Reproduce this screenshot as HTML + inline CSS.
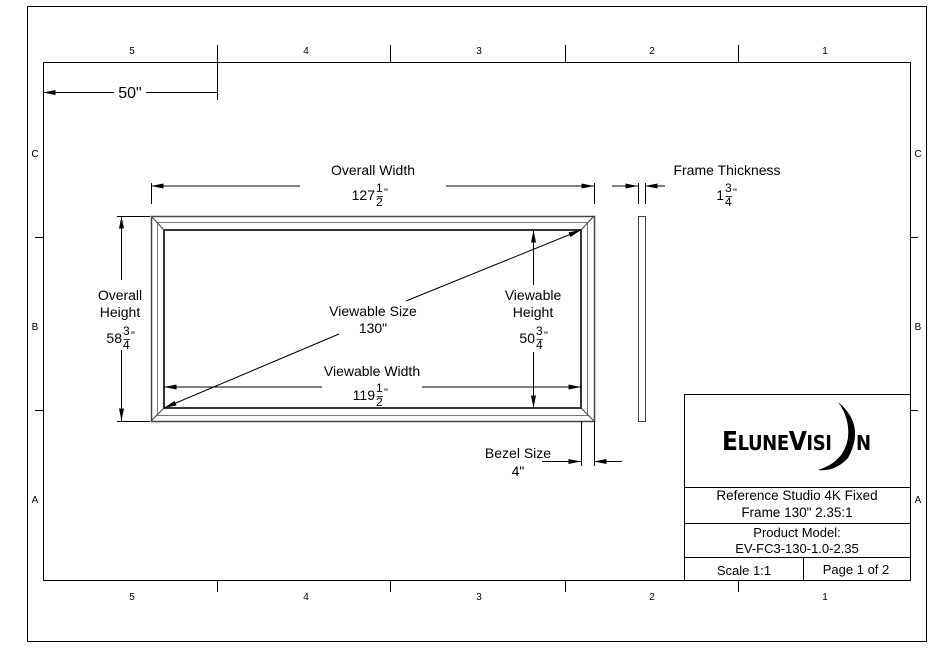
<!DOCTYPE html>
<html><head><style>body{margin:0;background:#fff}svg{display:block}text{font-family:"Liberation Sans",sans-serif;fill:#000}</style></head><body>
<svg width="952" height="654" viewBox="0 0 952 654" xmlns="http://www.w3.org/2000/svg">
<defs><marker id="a" viewBox="0 0 10 4" refX="10" refY="2" markerWidth="14" markerHeight="5" markerUnits="userSpaceOnUse" orient="auto-start-reverse"><path d="M0,0L10,2L0,4z" fill="#000"/></marker></defs>
<g fill="none" stroke="#000" stroke-width="1">
<rect x="27.5" y="6.5" width="899" height="635"/>
<rect x="43.5" y="62.5" width="867" height="518"/>
<path d="M217.5,45V62M390.5,45V62M565.5,45V62M738.5,45V62M217.5,581V592M390.5,581V592M565.5,581V592M738.5,581V592M35,237.5H43M35,410.5H43M910,237.5H918M910,410.5H918"/>
<rect x="684.5" y="394.5" width="226" height="186"/>
<path d="M684,487.5H910M684,523.5H910M684,557.5H910M803.5,557V580"/>
<rect x="151.5" y="216.5" width="443" height="205" stroke-width="1.5" stroke="#444"/>
<rect x="157.5" y="222.5" width="430" height="193" stroke="#777"/>
<rect x="164" y="230" width="417" height="178" stroke-width="2" stroke="#333"/>
<path d="M151,216L164,230M594,216L581,230M151,421L164,408M594,421L581,408" stroke="#444"/>
<rect x="638.5" y="216.5" width="7" height="205" stroke="#444"/>
<path d="M151.5,183V204M594.5,183V204"/>
<path d="M300,186H151" marker-end="url(#a)"/><path d="M446,186H594" marker-end="url(#a)"/>
<path d="M638.5,183V204M645.5,183V204"/>
<path d="M612,186H638" marker-end="url(#a)"/><path d="M665,186H645" marker-end="url(#a)"/>
<path d="M117,216.5H150M117,421.5H150"/>
<path d="M121.5,280V216" marker-end="url(#a)"/><path d="M121.5,350V421" marker-end="url(#a)"/>
<path d="M533.5,285V230" marker-end="url(#a)"/><path d="M533.5,352V408" marker-end="url(#a)"/>
<path d="M322,387H164" marker-end="url(#a)"/><path d="M422,387H581" marker-end="url(#a)"/>
<path d="M339,334L164,408" marker-end="url(#a)"/><path d="M406,301L581,230" marker-end="url(#a)"/>
<path d="M581.5,421V466M594.5,421V466"/>
<path d="M542,461.5H581" marker-end="url(#a)"/><path d="M622,461.5H594" marker-end="url(#a)"/>
<path d="M217.5,62V100"/>
<path d="M114,92.5H43" marker-end="url(#a)"/><path d="M146,92.5H217"/>
</g>
<g font-size="10" text-anchor="middle">
<text x="132" y="54">5</text><text x="306" y="54">4</text><text x="479" y="54">3</text><text x="652" y="54">2</text><text x="825" y="54">1</text>
<text x="132" y="600">5</text><text x="306" y="600">4</text><text x="479" y="600">3</text><text x="652" y="600">2</text><text x="825" y="600">1</text>
<text x="35" y="157">C</text><text x="35" y="330">B</text><text x="35" y="503">A</text>
<text x="918" y="157">C</text><text x="918" y="330">B</text><text x="918" y="503">A</text>
</g>
<g font-size="14" text-anchor="middle">
<text x="130" y="98" font-size="16">50"</text>
<text x="373" y="175">Overall Width</text>
<text x="727" y="175">Frame Thickness</text>
<text x="120" y="300">Overall</text><text x="120" y="317">Height</text>
<text x="373" y="316">Viewable Size</text><text x="373" y="333">130"</text>
<text x="533" y="300">Viewable</text><text x="533" y="317">Height</text>
<text x="372" y="376">Viewable Width</text>
<text x="518" y="458">Bezel Size</text><text x="518" y="476">4"</text>
<text x="797" y="500" font-size="13.5">Reference Studio 4K Fixed</text>
<text x="797" y="517" font-size="13.5">Frame 130"  2.35:1</text>
<text x="797" y="537" font-size="13">Product Model:</text>
<text x="797" y="553" font-size="13">EV-FC3-130-1.0-2.35</text>
<text x="744" y="575" font-size="13">Scale 1:1</text>
<text x="856" y="574" font-size="13">Page 1 of 2</text>
</g>
<g font-size="14">
<text x="375" y="200" text-anchor="end">127</text><text x="376" y="192" font-size="12">1</text><text x="376" y="206" font-size="12">2</text><text x="384" y="196" font-size="11">"</text>
<text x="724" y="200" text-anchor="end">1</text><text x="725" y="192" font-size="12">3</text><text x="725" y="206" font-size="12">4</text><text x="733" y="196" font-size="11">"</text>
<text x="122" y="343" text-anchor="end">58</text><text x="123" y="335" font-size="12">3</text><text x="123" y="349" font-size="12">4</text><text x="131" y="339" font-size="11">"</text>
<text x="535" y="343" text-anchor="end">50</text><text x="536" y="335" font-size="12">3</text><text x="536" y="349" font-size="12">4</text><text x="544" y="339" font-size="11">"</text>
<text x="375" y="400" text-anchor="end">119</text><text x="376" y="392" font-size="12">1</text><text x="376" y="406" font-size="12">2</text><text x="384" y="396" font-size="11">"</text>
</g>
<path d="M376.5,196.5H383M725.5,196.5H732M123.5,339.5H130M536.5,339.5H543M376.5,396.5H383" stroke="#000" stroke-width="0.8"/>
<text x="722" y="450" font-size="26" font-weight="bold" style="font-family:'DejaVu Sans Condensed','Liberation Sans Narrow',sans-serif" textLength="110" lengthAdjust="spacing">E<tspan font-size="20">LUNE</tspan>V<tspan font-size="20">ISI</tspan></text>
<text x="856" y="450" font-size="20" font-weight="bold" style="font-family:'DejaVu Sans Condensed',sans-serif">N</text>
<path d="M838,402 Q866,425 848,458 Q835,472 818,470 Q844,462 848,438 Q850,418 838,402z" fill="#000"/>
</svg>
</body></html>
